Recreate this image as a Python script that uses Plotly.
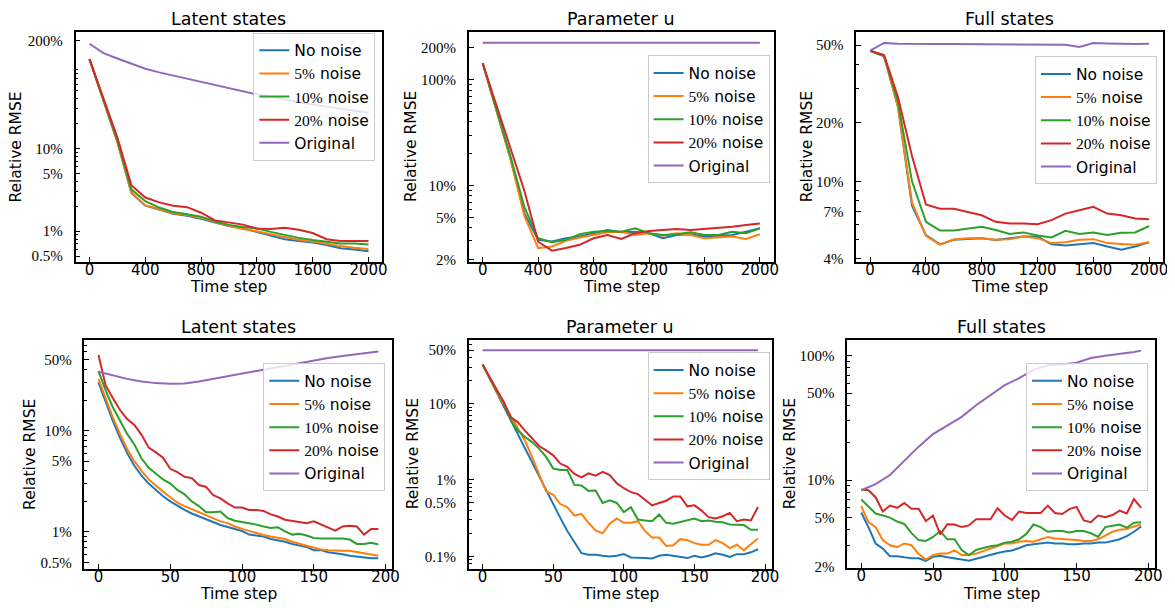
import math
import plotly.graph_objects as go

W, H = 1175, 608

# ---------------- data (values in percent) ----------------
x_top = [0, 100, 200, 300, 400, 500, 600, 700, 800, 900, 1000,
         1100, 1200, 1300, 1400, 1500, 1600, 1700, 1800, 1900, 2000]
x_bot = [0, 5, 10, 15, 20, 25, 30, 35, 40, 45, 50, 55, 60, 65, 70, 75, 80, 85, 90, 95,
         100, 105, 110, 115, 120, 125, 130, 135, 140, 145, 150, 155, 160, 165, 170, 175,
         180, 185, 190, 195]
x_bot_orig = [0, 10, 20, 30, 40, 50, 60, 70, 80, 90, 100, 110, 120, 130, 140, 150,
              160, 170, 180, 190, 195]

# Top-left: Latent states
tl_blue = [120, 38, 12, 2.9, 2.03, 1.82, 1.62, 1.53, 1.41, 1.27, 1.15, 1.08, 0.98, 0.90,
           0.80, 0.76, 0.73, 0.68, 0.62, 0.60, 0.57]
tl_orange = [120, 38, 12, 2.95, 2.05, 1.85, 1.65, 1.57, 1.45, 1.30, 1.15, 1.06, 1.00, 0.92,
             0.85, 0.79, 0.75, 0.70, 0.66, 0.63, 0.61]
tl_green = [120, 39, 12.5, 3.2, 2.3, 1.93, 1.70, 1.60, 1.50, 1.32, 1.19, 1.12, 1.08, 0.98,
            0.90, 0.83, 0.78, 0.75, 0.71, 0.71, 0.69]
tl_red = [120, 41, 13.5, 3.6, 2.55, 2.23, 2.03, 1.95, 1.67, 1.35, 1.26, 1.20, 1.08, 1.06,
          1.10, 1.04, 0.95, 0.80, 0.76, 0.76, 0.76]
tl_orig = [184, 142, 122, 105, 92, 83, 76, 70, 64, 58, 53, 49, 45, 42, 39, 36, 34, 32, 30,
           28.5, 27]

# Top-middle: Parameter u
tm_blue = [143, 52, 18, 5.5, 3.07, 2.96, 3.18, 3.30, 3.55, 3.81, 3.62, 3.67, 3.55, 3.18,
           3.42, 3.47, 3.30, 3.37, 3.42, 3.67, 3.95]
tm_orange = [143, 52, 18, 5.2, 2.57, 2.66, 3.01, 3.23, 3.42, 3.62, 3.67, 3.42, 3.55, 3.37,
             3.55, 3.42, 3.18, 3.23, 3.30, 3.14, 3.47]
tm_green = [143, 53, 19, 6.3, 3.18, 2.92, 3.07, 3.47, 3.67, 3.73, 3.67, 3.95, 3.55, 3.42,
            3.47, 3.62, 3.42, 3.42, 3.67, 3.55, 3.95]
tm_red = [143, 57, 23, 9.0, 2.95, 2.43, 2.57, 2.76, 3.18, 3.42, 3.14, 3.55, 3.73, 3.81,
          3.89, 3.81, 3.89, 3.95, 4.09, 4.24, 4.39]
tm_orig = [224, 224, 224, 224, 224, 224, 224, 224, 224, 224, 224, 224, 224, 224, 224, 224,
           224, 224, 224, 224, 224]

# Top-right: Full states
tr_blue = [46.8, 44, 24, 7.5, 5.3, 4.75, 5.01, 5.05, 5.11, 5.0, 5.11, 5.21, 5.21, 4.75,
           4.68, 4.75, 4.82, 4.63, 4.46, 4.63, 4.87]
tr_orange = [46.8, 44, 24, 7.8, 5.25, 4.73, 5.03, 5.11, 5.11, 5.01, 5.05, 5.21, 5.11, 4.82,
             4.87, 5.01, 5.05, 4.82, 4.77, 4.73, 4.87]
tr_green = [46.8, 44, 25.5, 10.0, 6.2, 5.6, 5.6, 5.7, 5.85, 5.63, 5.37, 5.47, 5.27, 5.15,
            5.57, 5.37, 5.47, 5.31, 5.45, 5.47, 5.9]
tr_red = [46.8, 44.5, 27, 13.5, 7.6, 7.24, 7.24, 6.97, 6.70, 6.20, 6.08, 6.08, 6.03, 6.32,
          6.83, 7.11, 7.4, 6.83, 6.70, 6.45, 6.38]
tr_orig = [46.8, 51.3, 50.8, 50.6, 50.6, 50.6, 50.6, 50.6, 50.6, 50.6, 50.6, 50.6, 50.6,
           50.6, 50.2, 48.9, 51.2, 51.0, 50.6, 50.6, 50.8]

# Bottom-left: Latent states
bl_blue = [30, 19, 12.5, 8.5, 6.0, 4.5, 3.6, 3.0, 2.6, 2.25, 2.0, 1.8, 1.65, 1.52, 1.42,
           1.33, 1.25, 1.17, 1.12, 1.07, 1.02, 0.94, 0.92, 0.90, 0.85, 0.83, 0.80, 0.76,
           0.73, 0.71, 0.66, 0.66, 0.63, 0.62, 0.60, 0.58, 0.57, 0.555, 0.55, 0.55]
bl_orange = [32.5, 21, 13.5, 9.3, 6.6, 5.0, 4.0, 3.3, 2.85, 2.5, 2.2, 1.95, 1.8, 1.68, 1.57,
             1.45, 1.35, 1.27, 1.22, 1.13, 1.07, 1.02, 0.98, 0.93, 0.90, 0.88, 0.85, 0.80,
             0.76, 0.73, 0.70, 0.67, 0.66, 0.65, 0.65, 0.65, 0.63, 0.62, 0.60, 0.58]
bl_green = [39, 25, 17, 12.5, 9.3, 7.3, 5.3, 4.3, 3.8, 3.3, 3.0, 2.6, 2.35, 2.0, 1.8, 1.56,
            1.56, 1.59, 1.37, 1.29, 1.25, 1.22, 1.18, 1.13, 1.09, 1.11, 1.01, 0.94, 0.96,
            0.92, 0.87, 0.86, 0.86, 0.87, 0.86, 0.84, 0.76, 0.76, 0.78, 0.75]
bl_red = [56, 28, 21, 16, 13, 11.4, 9.1, 6.8, 6.1, 5.4, 4.2, 3.9, 3.5, 3.4, 2.9, 2.78, 2.3,
          2.14, 1.91, 1.74, 1.74, 1.65, 1.65, 1.61, 1.49, 1.42, 1.32, 1.29, 1.25, 1.22,
          1.27, 1.18, 1.09, 1.03, 1.13, 1.15, 1.13, 0.94, 1.07, 1.07]
bl_orig = [38.2, 35.0, 32.5, 30.6, 29.5, 29.0, 29.2, 30.6, 32.5, 34.7, 36.8, 39.1, 41.5,
           44.4, 47.1, 49.6, 52.3, 54.7, 56.8, 59.3, 60.7]

# Bottom-middle: Parameter u
bm_blue = [32.3, 21.2, 13.9, 9.11, 5.97, 3.92, 2.57, 1.68, 1.10, 0.72, 0.475, 0.319, 0.215,
           0.152, 0.110, 0.105, 0.105, 0.102, 0.100, 0.102, 0.107, 0.097, 0.095, 0.095,
           0.094, 0.102, 0.105, 0.102, 0.100, 0.095, 0.102, 0.097, 0.102, 0.110, 0.105,
           0.098, 0.107, 0.107, 0.113, 0.124]
bm_orange = [32.3, 21.3, 14.1, 9.8, 6.9, 4.66, 3.29, 2.0, 1.22, 0.706, 0.64, 0.484, 0.44,
             0.342, 0.36, 0.275, 0.219, 0.20, 0.267, 0.313, 0.275, 0.275, 0.289, 0.215,
             0.176, 0.176, 0.137, 0.14, 0.168, 0.163, 0.149, 0.142, 0.142, 0.163, 0.149,
             0.128, 0.142, 0.12, 0.144, 0.171]
bm_green = [32.3, 21.7, 14.6, 10.3, 5.98, 4.43, 3.64, 3.13, 2.57, 2.0, 1.41, 1.35, 1.35,
            0.862, 0.845, 0.72, 0.728, 0.50, 0.54, 0.50, 0.38, 0.439, 0.304, 0.295, 0.289,
            0.353, 0.275, 0.267, 0.283, 0.295, 0.313, 0.289, 0.295, 0.283, 0.280, 0.262,
            0.262, 0.257, 0.223, 0.223]
bm_red = [32.3, 22.4, 15.0, 10.5, 6.6, 5.68, 4.43, 3.46, 2.78, 2.44, 2.10, 1.64, 1.49, 1.2,
          1.08, 1.22, 1.14, 1.28, 1.16, 0.905, 0.78, 0.693, 0.652, 0.551, 0.465, 0.50,
          0.535, 0.609, 0.609, 0.452, 0.465, 0.397, 0.326, 0.313, 0.335, 0.371, 0.289,
          0.304, 0.295, 0.443]
bm_orig = [50, 50, 50, 50, 50, 50, 50, 50, 50, 50, 50, 50, 50, 50, 50, 50, 50, 50, 50, 50, 50]

# Bottom-right: Full states
br_blue = [5.5, 4.2, 3.1, 2.82, 2.45, 2.45, 2.4, 2.36, 2.36, 2.25, 2.42, 2.47, 2.4, 2.36,
           2.3, 2.25, 2.34, 2.42, 2.5, 2.6, 2.67, 2.72, 2.85, 3.0, 3.05, 3.1, 3.15, 3.1,
           3.1, 3.05, 3.05, 3.1, 3.1, 3.15, 3.15, 3.25, 3.35, 3.55, 3.85, 4.25]
br_orange = [6.2, 4.6, 4.2, 3.3, 3.0, 2.9, 3.1, 3.0, 2.55, 2.3, 2.5, 2.57, 2.57, 2.73, 2.5,
             2.5, 2.57, 2.7, 2.82, 2.95, 3.1, 3.1, 3.2, 3.25, 3.2, 3.35, 3.5, 3.4, 3.38,
             3.35, 3.3, 3.25, 3.25, 3.35, 3.6, 3.85, 4.0, 4.05, 4.25, 4.4]
br_green = [7.0, 6.1, 5.4, 5.2, 5.0, 4.65, 4.45, 3.75, 3.3, 3.25, 3.5, 3.9, 3.35, 3.35, 2.75,
            2.5, 2.75, 2.85, 2.95, 3.0, 3.15, 3.2, 3.35, 3.7, 4.4, 4.2, 3.85, 3.9, 3.9, 3.8,
            3.9, 3.9, 3.75, 3.5, 4.2, 4.3, 4.4, 4.15, 4.55, 4.6]
br_red = [8.4, 8.3, 7.3, 5.6, 6.25, 6.0, 6.55, 5.9, 5.9, 4.7, 5.2, 3.66, 4.43, 4.4, 4.2,
          4.33, 4.85, 4.85, 4.85, 5.95, 5.2, 4.8, 5.6, 5.45, 5.45, 5.45, 6.24, 5.45, 5.35,
          5.85, 6.1, 4.75, 4.6, 5.2, 5.05, 5.25, 5.7, 5.4, 7.06, 6.0]
br_orig = [8.3, 9.3, 11.0, 14.3, 18.6, 23.5, 27.5, 32.3, 40, 48.5, 58, 66, 77, 84, 85, 88,
           96, 100, 103, 107, 110]

titles = ["Latent states", "Parameter u", "Full states",
          "Latent states", "Parameter u", "Full states"]
top_xticks = [0, 400, 800, 1200, 1600, 2000]
bot_xticks = [0, 50, 100, 150, 200]
tl_yticks = [0.5, 1, 5, 10, 200]
tl_ytext = ["0.5%", "1%", "5%", "10%", "200%"]
tm_yticks = [2, 5, 10, 100, 200]
tm_ytext = ["2%", "5%", "10%", "100%", "200%"]
tr_yticks = [4, 7, 10, 20, 50]
tr_ytext = ["4%", "7%", "10%", "20%", "50%"]
bl_yticks = [0.5, 1, 5, 10, 50]
bl_ytext = ["0.5%", "1%", "5%", "10%", "50%"]
bm_yticks = [0.1, 0.5, 1, 10, 50]
bm_ytext = ["0.1%", "0.5%", "1%", "10%", "50%"]
br_yticks = [2, 5, 10, 50, 100]
br_ytext = ["2%", "5%", "10%", "50%", "100%"]

SERIF = "Liberation Serif"
SANS = "DejaVu Sans"
names = ["No noise",
         '<span style="font-family:Liberation Serif">5%</span> noise',
         '<span style="font-family:Liberation Serif">10%</span> noise',
         '<span style="font-family:Liberation Serif">20%</span> noise',
         "Original"]
colors = ["#1f77b4", "#ff7f0e", "#2ca02c", "#d62728", "#9467bd"]

# ---------------- layout geometry (pixels) ----------------
panels = [
    dict(xs=[x_top] * 5, ys=[tl_blue, tl_orange, tl_green, tl_red, tl_orig],
         box=(68, 377, 24, 257), xr=[-100, 2100], xt=top_xticks,
         yr=[-0.368, 2.411], yt=tl_yticks, ytt=tl_ytext, leg=(247, 25), ylab_x=8,
         xlab_dy=26, title_dy=13),
    dict(xs=[x_top] * 5, ys=[tm_blue, tm_orange, tm_green, tm_red, tm_orig],
         box=(464, 771, 24, 257), xr=[-100, 2100], xt=top_xticks,
         yr=[0.282, 2.454], yt=tm_yticks, ytt=tm_ytext, leg=(644, 48), ylab_x=405,
         xlab_dy=26, title_dy=13),
    dict(xs=[x_top] * 5, ys=[tr_blue, tr_orange, tr_green, tr_red, tr_orig],
         box=(854, 1163, 24, 257), xr=[-100, 2100], xt=top_xticks,
         yr=[0.588, 1.768], yt=tr_yticks, ytt=tr_ytext, leg=(1034, 49), ylab_x=804,
         xlab_dy=26, title_dy=13),
    dict(xs=[x_bot] * 4 + [x_bot_orig], ys=[bl_blue, bl_orange, bl_green, bl_red, bl_orig],
         box=(77, 387, 336, 568), xr=[-9.75, 204.75], xt=bot_xticks,
         yr=[-0.362, 1.90], yt=bl_yticks, ytt=bl_ytext, leg=(257, 360), ylab_x=22,
         xlab_dy=26, title_dy=13),
    dict(xs=[x_bot] * 4 + [x_bot_orig], ys=[bm_blue, bm_orange, bm_green, bm_red, bm_orig],
         box=(464, 769, 336, 568), xr=[-9.75, 204.75], xt=bot_xticks,
         yr=[-1.159, 1.837], yt=bm_yticks, ytt=bm_ytext, leg=(644, 349), ylab_x=408,
         xlab_dy=26, title_dy=13),
    dict(xs=[x_bot] * 4 + [x_bot_orig], ys=[br_blue, br_orange, br_green, br_red, br_orig],
         box=(845, 1155, 336, 567), xr=[-9.75, 204.75], xt=bot_xticks,
         yr=[0.298, 2.13], yt=br_yticks, ytt=br_ytext, leg=(1025, 360), ylab_x=787,
         xlab_dy=27, title_dy=13),
]


def fx(px):
    return px / W


def fy(py):
    return 1 - py / H


fig = go.Figure()
layout = dict(width=W, height=H, margin=dict(l=0, r=0, t=0, b=0),
              paper_bgcolor="white", plot_bgcolor="white", showlegend=True,
              font=dict(family=SANS, color="black"))
annotations = []

for i, p in enumerate(panels):
    k = i + 1
    sfx = "" if k == 1 else str(k)
    xa, ya, lg = "x" + sfx, "y" + sfx, "legend" + sfx
    for name, xs, ys, col in zip(names, p["xs"], p["ys"], colors):
        fig.add_trace(go.Scatter(x=xs, y=ys, mode="lines", name=name,
                                 line=dict(color=col, width=2),
                                 xaxis=xa, yaxis=ya, legend=lg, hoverinfo="skip"))
    x0, x1, y0, y1 = p["box"]
    lo, hi = p["yr"]
    minor_vals = [m * 10 ** e for e in range(-3, 4) for m in range(2, 10)
                  if lo <= math.log10(m * 10 ** e) <= hi and
                  all(abs(m * 10 ** e - t) > 1e-9 for t in p["yt"])]
    layout["xaxis" + sfx] = dict(
        domain=[fx(x0), fx(x1)], anchor=ya, range=p["xr"], tickmode="array",
        tickvals=p["xt"], ticks="inside", ticklen=5, tickwidth=1.2, tickcolor="black",
        showline=True, linecolor="black", linewidth=1.6, mirror=True,
        showgrid=False, zeroline=False, ticklabelstandoff=-6,
        tickfont=dict(family=SANS, size=15, color="black"))
    layout["yaxis" + sfx] = dict(
        domain=[fy(y1), fy(y0)], anchor=xa, type="log", range=[lo, hi],
        tickmode="array", tickvals=p["yt"], ticktext=p["ytt"], ticks="inside",
        ticklen=5, tickwidth=1.2, tickcolor="black",
        minor=dict(tickmode="array", tickvals=minor_vals, ticks="inside", ticklen=3,
                   tickwidth=1, tickcolor="black"),
        showline=True, linecolor="black", linewidth=1.6, mirror=True,
        showgrid=False, zeroline=False, ticklabelstandoff=8,
        tickfont=dict(family=SERIF, size=15, color="black"))
    lx, ly = p["leg"]
    layout[lg] = dict(x=fx(lx), y=fy(ly), xanchor="left", yanchor="top",
                      bgcolor="rgba(255,255,255,0.8)", bordercolor="#cccccc",
                      borderwidth=1, font=dict(family=SANS, size=15.5, color="black"))
    cx = (x0 + x1) / 2
    cy = (y0 + y1) / 2
    annotations.append(dict(text=titles[i], x=fx(cx), y=fy(y0 - p["title_dy"]),
                            xref="paper", yref="paper", xanchor="center",
                            yanchor="middle", showarrow=False, borderpad=0,
                            font=dict(family=SANS, size=17.5)))
    annotations.append(dict(text="Time step", x=fx(cx), y=fy(y1 + p["xlab_dy"]),
                            xref="paper", yref="paper", xanchor="center",
                            yanchor="middle", showarrow=False,
                            font=dict(family=SANS, size=15.5)))
    annotations.append(dict(text="Relative RMSE", x=fx(p["ylab_x"]), y=fy(cy),
                            xref="paper", yref="paper", xanchor="center",
                            yanchor="middle", textangle=-90, showarrow=False,
                            font=dict(family=SANS, size=15.5)))

layout["annotations"] = annotations
fig.update_layout(**layout)
fig.write_html("out.html")
